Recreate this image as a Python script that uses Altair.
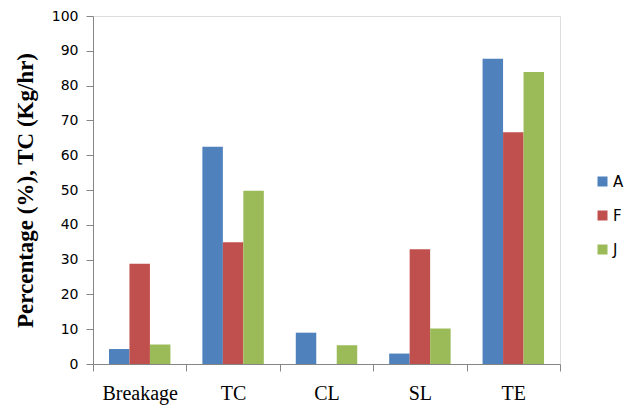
import altair as alt
import pandas as pd

categories = ["Breakage", "TC", "CL", "SL", "TE"]
series = ["A", "F", "J"]
values_A = [4.3, 62.4, 9.0, 3.0, 87.7]
values_F = [28.8, 35.0, 0.0, 33.0, 66.6]
values_J = [5.6, 49.8, 5.4, 10.2, 83.9]
colors = ["#4F81BD", "#C0504D", "#9BBB59"]
y_ticks = list(range(0, 101, 10))

rows = []
for s, vals in zip(series, [values_A, values_F, values_J]):
    for c, v in zip(categories, vals):
        rows.append({"category": c, "series": s, "value": v})
df = pd.DataFrame(rows)

chart = alt.Chart(df).mark_bar().encode(
    x=alt.X("category:N", sort=categories,
            scale=alt.Scale(paddingInner=0, paddingOuter=0),
            axis=alt.Axis(title=None, labelAngle=0, labelFont="Liberation Serif",
                          labelFontSize=20, labelColor="#000000", labelPadding=12,
                          tickBand="extent", tickSize=7, tickColor="#868686",
                          domainColor="#868686", grid=False)),
    xOffset=alt.XOffset("series:N", sort=series,
                        scale=alt.Scale(paddingInner=0, paddingOuter=0.78)),
    y=alt.Y("value:Q", scale=alt.Scale(domain=[0, 100], nice=False),
            axis=alt.Axis(title="Percentage (%),  TC  (Kg/hr)", values=y_ticks,
                          titleFont="Liberation Serif", titleFontSize=23,
                          titleFontWeight="bold", titleColor="#000000", titlePadding=14,
                          labelFont="DejaVu Sans", labelFontSize=14, labelColor="#000000",
                          labelPadding=8, tickSize=7, tickColor="#868686",
                          domainColor="#868686", grid=False)),
    color=alt.Color("series:N", sort=series,
                    scale=alt.Scale(domain=series, range=colors),
                    legend=alt.Legend(title=None, orient="none", legendX=502, legendY=158,
                                      symbolType="square", symbolSize=100,
                                      symbolStrokeWidth=0, labelFont="DejaVu Sans",
                                      labelFontSize=15, labelColor="#000000",
                                      labelOffset=3, rowPadding=18)),
).properties(
    width=467, height=348,
    autosize=alt.AutoSizeParams(type="none"),
    padding={"left": 85, "top": 8, "right": 75, "bottom": 42},
).configure_view(stroke=None).configure(background="#ffffff")

chart.save("out.html", embed_options={"renderer": "svg", "actions": False})
